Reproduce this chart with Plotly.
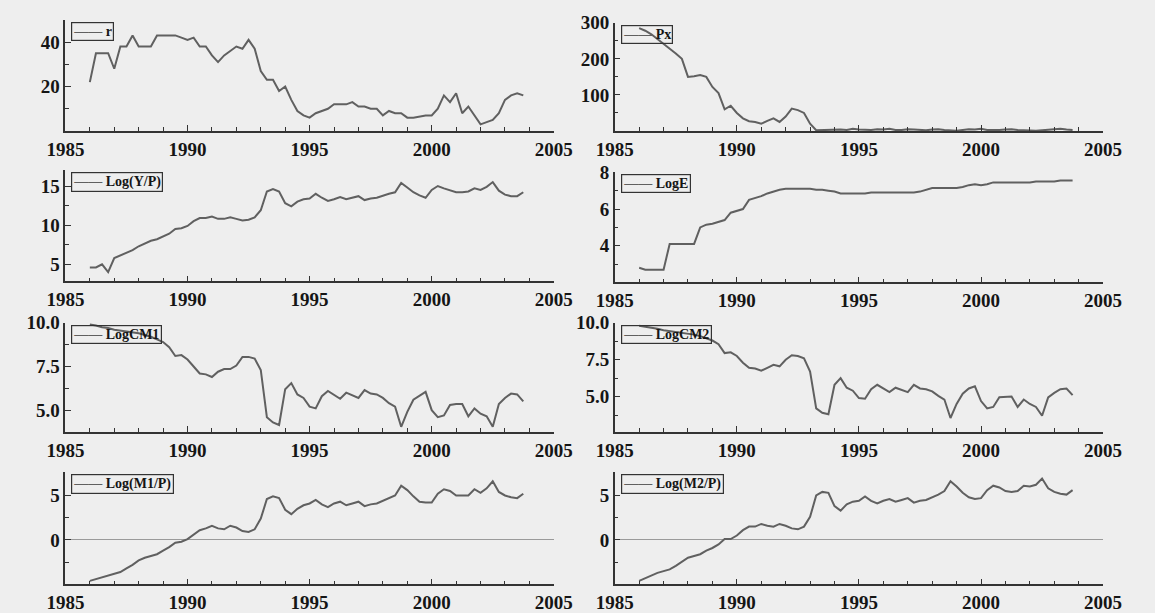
import plotly.graph_objects as go

W, H = 1155, 613

# quarterly observations 1986Q1 .. 2003Q4
quarters = [1986 + i / 4 for i in range(72)]

r = [22, 35, 35, 35, 28, 38, 38, 43, 38, 38, 38, 43, 43, 43, 43, 42,
     41, 42, 38, 38, 34, 31, 34, 36, 38, 37, 41, 37, 27, 23, 23, 18,
     20, 14, 9, 7, 6, 8, 9, 10, 12, 12, 12, 13, 11, 11, 10, 10,
     7, 9, 8, 8, 6, 6, 6.5, 7, 7, 10, 16, 13, 17, 8, 11, 7,
     3, 4, 5, 8, 14, 16, 17, 16]

px_ = [285, 278, 268, 255, 240, 228, 215, 200, 150, 152, 155, 150, 122, 105, 60, 70,
       50, 35, 27, 25, 20, 28, 35, 25, 40, 62, 58, 50, 20, 2, 3, 4,
       5, 4, 3, 6, 4, 3, 3, 5, 4, 6, 3, 3, 5, 4, 3, 2,
       4, 5, 3, 2, 1, 3, 5, 4, 6, 3, 2, 3, 4, 5, 3, 2,
       3, 1, 2, 4, 5, 6, 4, 3]

log_yp = [4.6, 4.6, 5.0, 4.0, 5.8, 6.1, 6.4, 6.8, 7.3, 7.7, 8.0, 8.2, 8.6, 8.9, 9.5, 9.6,
          9.9, 10.5, 10.9, 10.9, 11.1, 10.8, 10.8, 11.0, 10.8, 10.6, 10.7, 11.0, 11.9, 14.3, 14.6, 14.3,
          12.8, 12.4, 13.0, 13.3, 13.4, 14.0, 13.5, 13.1, 13.3, 13.6, 13.3, 13.5, 13.7, 13.2, 13.4, 13.5,
          13.8, 14.0, 14.2, 15.4, 14.8, 14.2, 13.8, 13.5, 14.5, 15.0, 14.7, 14.4, 14.2, 14.2, 14.3, 14.7,
          14.5, 14.9, 15.5, 14.4, 13.9, 13.7, 13.7, 14.2]

log_e = [2.8, 2.7, 2.7, 2.7, 2.7, 4.1, 4.1, 4.1, 4.1, 4.1, 5.0, 5.15, 5.2, 5.3, 5.4, 5.8,
         5.9, 6.0, 6.5, 6.6, 6.7, 6.85, 6.95, 7.05, 7.1, 7.1, 7.1, 7.1, 7.1, 7.05, 7.05, 7.0,
         6.95, 6.85, 6.85, 6.85, 6.85, 6.85, 6.9, 6.9, 6.9, 6.9, 6.9, 6.9, 6.9, 6.9, 6.95, 7.05,
         7.15, 7.15, 7.15, 7.15, 7.15, 7.2, 7.3, 7.35, 7.3, 7.35, 7.45, 7.45, 7.45, 7.45, 7.45, 7.45,
         7.45, 7.5, 7.5, 7.5, 7.5, 7.55, 7.55, 7.55]

log_cm1 = [9.9, 9.85, 9.75, 9.7, 9.6, 9.55, 9.5, 9.45, 9.4, 9.3, 9.2, 9.05, 8.9, 8.6, 8.1, 8.15,
           7.9, 7.5, 7.1, 7.05, 6.9, 7.2, 7.35, 7.35, 7.55, 8.05, 8.05, 7.95, 7.3, 4.6, 4.3, 4.15,
           6.2, 6.55, 5.9, 5.7, 5.2, 5.1, 5.8, 6.1, 5.9, 5.65, 6.0, 5.85, 5.7, 6.15, 5.95, 5.9,
           5.7, 5.4, 5.2, 4.05, 4.9, 5.6, 5.85, 6.05, 5.0, 4.6, 4.7, 5.3, 5.35, 5.35, 4.65, 5.1,
           4.8, 4.65, 4.05, 5.35, 5.7, 5.95, 5.9, 5.5]

log_cm2 = [9.8, 9.75, 9.65, 9.6, 9.5, 9.45, 9.4, 9.35, 9.3, 9.2, 9.1, 8.95, 8.8, 8.55, 7.95, 8.0,
           7.75, 7.3, 6.95, 6.9, 6.75, 6.95, 7.15, 7.05, 7.5, 7.8, 7.75, 7.6, 6.7, 4.2, 3.9, 3.8,
           5.8, 6.25, 5.6, 5.4, 4.9, 4.85, 5.5, 5.8, 5.55, 5.3, 5.6, 5.45, 5.3, 5.8, 5.55, 5.5,
           5.35, 5.05, 4.8, 3.55, 4.5, 5.2, 5.55, 5.7, 4.7, 4.2, 4.3, 4.95, 5.0, 5.0, 4.3, 4.8,
           4.5, 4.3, 3.7, 4.95, 5.25, 5.5, 5.55, 5.1]

log_m1p = [-4.6, -4.4, -4.2, -4.0, -3.8, -3.6, -3.2, -2.8, -2.3, -2.0, -1.8, -1.6, -1.2, -0.8, -0.3, -0.2,
           0.1, 0.6, 1.1, 1.3, 1.6, 1.3, 1.2, 1.6, 1.4, 1.0, 0.9, 1.2, 2.4, 4.6, 4.9, 4.7,
           3.4, 2.9, 3.5, 3.9, 4.1, 4.5, 4.0, 3.7, 4.1, 4.3, 3.9, 4.1, 4.3, 3.8, 4.0, 4.1,
           4.4, 4.7, 5.0, 6.1, 5.6, 4.9, 4.3, 4.2, 4.2, 5.2, 5.7, 5.5, 5.0, 5.0, 5.0, 5.7,
           5.3, 5.8, 6.6, 5.4, 5.0, 4.8, 4.7, 5.2]

log_m2p = [-4.6, -4.3, -4.0, -3.7, -3.5, -3.3, -2.9, -2.4, -2.0, -1.8, -1.6, -1.2, -0.9, -0.5, 0.1, 0.1,
           0.5, 1.1, 1.5, 1.5, 1.8, 1.6, 1.5, 1.8, 1.6, 1.3, 1.2, 1.5, 2.6, 5.0, 5.4, 5.3,
           3.8, 3.3, 4.0, 4.3, 4.4, 4.9, 4.4, 4.1, 4.4, 4.6, 4.3, 4.5, 4.7, 4.2, 4.4, 4.5,
           4.8, 5.1, 5.5, 6.6, 6.0, 5.3, 4.8, 4.6, 4.7, 5.6, 6.1, 5.9, 5.5, 5.4, 5.5, 6.1,
           6.0, 6.2, 6.9, 5.8, 5.4, 5.2, 5.1, 5.6]

x_ticks = [1985, 1990, 1995, 2000, 2005]

# name, values, y range, labelled y ticks, minor y step, tick format, zero line
panels = [
    ("r", r, [0, 50], [20, 40], 10, None, False),
    ("Px", px_, [0, 300], [100, 200, 300], 50, None, False),
    ("Log(Y/P)", log_yp, [2.8, 17.0], [5, 10, 15], 2.5, None, False),
    ("LogE", log_e, [2, 8], [4, 6, 8], 1, None, False),
    ("LogCM1", log_cm1, [3.75, 10], [5.0, 7.5, 10.0], 1.25, ".1f", False),
    ("LogCM2", log_cm2, [2.6, 10], [5.0, 7.5, 10.0], 1.25, ".1f", False),
    ("Log(M1/P)", log_m1p, [-5, 7.6], [0, 5], 2.5, None, True),
    ("Log(M2/P)", log_m2p, [-5, 7.6], [0, 5], 2.5, None, True),
]

# pixel boxes (left, right, top, bottom) for each panel
boxes = [
    (48, 553, 10, 123), (616, 1121, 13, 123),
    (48, 553, 163, 276), (616, 1121, 165, 277),
    (48, 553, 318, 429), (616, 1121, 318, 429),
    (48, 553, 470, 584), (616, 1121, 470, 584),
]

FONT = "Liberation Serif"
LINE = "#606060"
tick_font = dict(family=FONT, size=19, color="#151515", weight="bold")
leg_font = dict(family=FONT, size=14, color="#151515", weight="bold")

fig = go.Figure()
layout = dict(
    width=W, height=H,
    margin=dict(l=0, r=0, t=0, b=0),
    paper_bgcolor="#eeeeee", plot_bgcolor="#eeeeee",
    showlegend=False,
)
annotations = []

for i, (name, vals, yr, yt, ymin_step, fmt, zl) in enumerate(panels):
    k = i + 1
    L, R, T, B = boxes[i]
    xa = "xaxis" if k == 1 else f"xaxis{k}"
    ya = "yaxis" if k == 1 else f"yaxis{k}"
    fig.add_trace(go.Scatter(
        x=quarters, y=vals, mode="lines", name=name,
        line=dict(color=LINE, width=2),
        xaxis="x" if k == 1 else f"x{k}", yaxis="y" if k == 1 else f"y{k}",
    ))
    layout[xa] = dict(
        domain=[L / W, R / W], anchor="y" if k == 1 else f"y{k}",
        range=[1985, 2005], tickvals=x_ticks, ticks="inside", ticklen=6,
        tickcolor="#333", showline=True, linecolor="#333", linewidth=1.5,
        showgrid=False, zeroline=False, tickfont=tick_font,
        minor=dict(dtick=1, tick0=1985, ticks="inside", ticklen=4, tickcolor="#333", showgrid=False),
    )
    ydict = dict(
        domain=[1 - B / H, 1 - T / H], anchor="x" if k == 1 else f"x{k}",
        range=yr, tickvals=yt, ticks="inside", ticklen=6, tickcolor="#333",
        showline=True, linecolor="#333", linewidth=1.5, showgrid=False,
        zeroline=zl, zerolinecolor="#9a9a9a", zerolinewidth=1.2,
        tickfont=tick_font,
        minor=dict(dtick=ymin_step, tick0=0, ticks="inside", ticklen=4, tickcolor="#333", showgrid=False),
    )
    if fmt:
        ydict["tickformat"] = fmt
    layout[ya] = ydict
    # compact legend box in the top-left corner of each panel
    annotations.append(dict(
        xref="paper", yref="paper", x=(L + 6) / W, y=1 - (T + 2) / H,
        xanchor="left", yanchor="top", showarrow=False,
        text=f'<span style="color:{LINE}">\u2014\u2014</span> {name}',
        font=leg_font, bordercolor="#333", borderwidth=1.2, borderpad=1,
        bgcolor="rgba(0,0,0,0)",
    ))

layout["annotations"] = annotations
fig.update_layout(**layout)
fig.write_html("out.html")
